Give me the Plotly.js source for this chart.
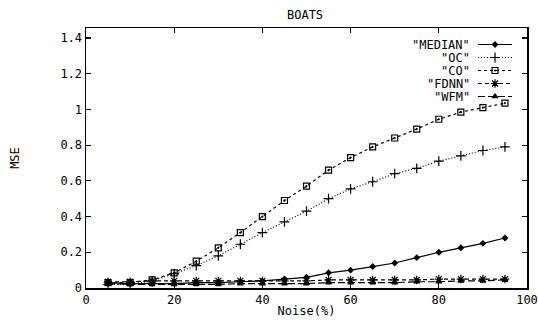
<!DOCTYPE html>
<html>
<head>
<meta charset="utf-8">
<script src="https://cdn.plot.ly/plotly-3.0.1.min.js"></script>
<style>html,body{margin:0;padding:0;background:#fff;}#chart{width:538px;height:322px;}</style>
</head>
<body>
<div id="chart"></div>
<script>
const noise = [5,10,15,20,25,30,35,40,45,50,55,60,65,70,75,80,85,90,95];
const median = [0.03,0.025,0.025,0.025,0.03,0.03,0.035,0.04,0.05,0.06,0.085,0.1,0.12,0.14,0.17,0.2,0.225,0.25,0.28];
const oc = [0.02,0.02,0.04,0.08,0.125,0.18,0.245,0.31,0.37,0.43,0.5,0.555,0.595,0.64,0.67,0.71,0.74,0.77,0.79];
const co = [0.03,0.03,0.045,0.085,0.15,0.225,0.31,0.4,0.49,0.57,0.66,0.73,0.79,0.84,0.89,0.945,0.985,1.01,1.035];
const fdnn = [0.035,0.035,0.04,0.04,0.04,0.04,0.04,0.04,0.04,0.04,0.045,0.045,0.045,0.045,0.045,0.05,0.05,0.05,0.05];
const wfm = [0.025,0.02,0.02,0.02,0.02,0.02,0.025,0.025,0.025,0.025,0.03,0.03,0.03,0.03,0.035,0.035,0.04,0.04,0.045];
const names = ['"MEDIAN"','"OC"','"CO"','"FDNN"','"WFM"'];
const xTicks = [0,20,40,60,80,100];
const yTicks = [0,0.2,0.4,0.6,0.8,1,1.2,1.4];

const font = {family: 'DejaVu Sans Mono, monospace', size: 12, color: '#000'};
const styles = [
  {dash: 'solid', symbol: 'diamond', size: 4},
  {dash: '1px,2px', symbol: 'cross-thin-open', size: 7},
  {dash: '3px,3px', symbol: 'square-open-dot', size: 6},
  {dash: '4px,3px', symbol: 'asterisk-open', size: 7},
  {dash: '7px,3px', symbol: 'triangle-up', size: 5}
];
const series = [median, oc, co, fdnn, wfm];

const data = [];
series.forEach((y, i) => {
  const s = styles[i];
  data.push({
    x: noise, y: y, name: names[i], type: 'scatter', mode: 'lines+markers',
    line: {color: '#000', width: 1.2, dash: s.dash},
    marker: {symbol: s.symbol, size: s.size, color: '#000', line: {color: '#000', width: 1.2}},
    showlegend: false
  });
});

// Custom gnuplot-style legend (text left of sample), positioned in pixel-like overlay axes
const legX0 = 478, legX1 = 512, legXm = 495, legTextX = 472, legY0 = 44.5, legDy = 13;
const annotations = [];
names.forEach((n, i) => {
  const s = styles[i];
  const yy = legY0 + legDy * i;
  data.push({
    x: [legX0, legX1], y: [yy, yy], xaxis: 'x2', yaxis: 'y2', mode: 'lines',
    line: {color: '#000', width: 1.2, dash: s.dash}, showlegend: false, hoverinfo: 'skip'
  });
  data.push({
    x: [legXm], y: [yy], xaxis: 'x2', yaxis: 'y2', mode: 'markers',
    marker: {symbol: s.symbol, size: s.size, color: '#000', line: {color: '#000', width: 1.2}},
    showlegend: false, hoverinfo: 'skip'
  });
  annotations.push({
    x: legTextX, y: yy, xref: 'x2', yref: 'y2', text: n, showarrow: false,
    xanchor: 'right', yanchor: 'middle', font: font
  });
});

const axisCommon = {
  showline: true, linecolor: '#000', linewidth: 1.5, mirror: 'ticks',
  ticks: 'inside', ticklen: 5, tickcolor: '#000', tickwidth: 1.2,
  showgrid: false, zeroline: false, tickfont: font
};
const layout = {
  width: 538, height: 322,
  margin: {l: 86, r: 11, t: 28, b: 34},
  paper_bgcolor: '#fff', plot_bgcolor: '#fff',
  font: font,
  showlegend: false,
  title: {text: 'BOATS', font: font, x: 0.567, xanchor: 'center', y: 0.955, yanchor: 'middle'},
  xaxis: Object.assign({}, axisCommon, {
    range: [0, 100], tickvals: xTicks,
    title: {text: 'Noise(%)', font: font, standoff: 0}
  }),
  yaxis: Object.assign({}, axisCommon, {
    range: [0, 1.456], tickvals: yTicks,
    title: {text: 'MSE', font: font, standoff: 38}
  }),
  xaxis2: {overlaying: 'x', range: [86, 527], visible: false, fixedrange: true},
  yaxis2: {overlaying: 'y', range: [288, 28], visible: false, fixedrange: true},
  annotations: annotations
};
Plotly.newPlot('chart', data, layout, {displayModeBar: false, staticPlot: true});
</script>
</body>
</html>
